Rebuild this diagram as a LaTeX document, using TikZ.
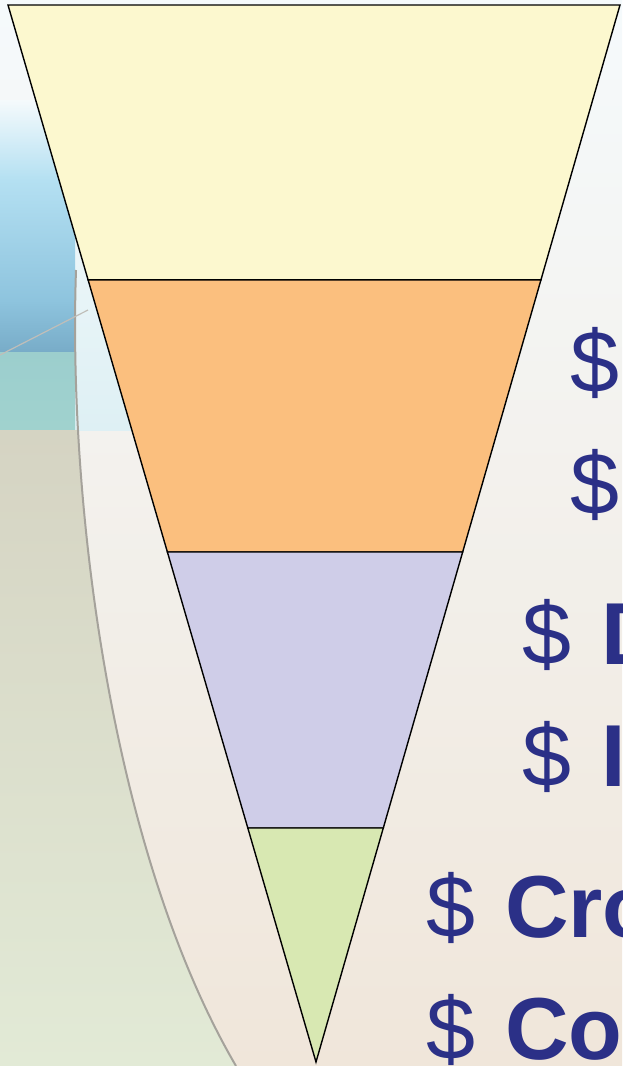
\documentclass[tikz,border=0pt]{standalone}
\usepackage{fontspec}
\setmainfont{Liberation Sans}
\usepackage{tikz}
\usetikzlibrary{calc}
\definecolor{slideBlue}{RGB}{43,48,135}
\definecolor{funnelYellow}{RGB}{252,248,207}
\definecolor{funnelOrange}{RGB}{251,191,126}
\definecolor{funnelLilac}{RGB}{207,205,232}
\definecolor{funnelGreen}{RGB}{216,232,178}
\definecolor{bgTop}{RGB}{245,250,252}
\definecolor{bgBottom}{RGB}{240,230,218}
\definecolor{bgPale}{RGB}{222,240,244}
\definecolor{bgSkyLight}{RGB}{180,224,242}
\definecolor{bgSky}{RGB}{142,196,222}
\definecolor{bgSteel}{RGB}{120,172,200}
\definecolor{bgTeal}{RGB}{160,210,206}
\definecolor{bgSand}{RGB}{210,206,190}
\definecolor{bgMint}{RGB}{226,234,214}
\definecolor{bgLine}{RGB}{165,162,155}

\begin{document}
\begin{tikzpicture}[
  x=1pt, y=-1pt,
  band/.style={draw=black, line width=1.4pt},
  bullet/.style={anchor=base west, inner sep=0pt, text=slideBlue,
                 font=\fontsize{88}{96}\selectfont}
]
  \clip (0,0) rectangle (622,1066);

  % slide background
  \shade[top color=bgTop, bottom color=bgBottom] (0,0) rectangle (622,1066);
  \shade[top color=bgTop, bottom color=bgPale] (75,100) rectangle (140,430);
  \shade[top color=bgTop, bottom color=bgSkyLight] (0,100) rectangle (75,180);
  \shade[top color=bgSkyLight, bottom color=bgSky] (0,180) rectangle (75,300);
  \shade[top color=bgSky, bottom color=bgSteel] (0,300) rectangle (75,352);
  \shade[top color=bgTeal!90!bgSteel, bottom color=bgTeal] (0,352) rectangle (75,430);
  \begin{scope}
    \clip (0,430) rectangle (622,1066);
    \shade[top color=bgSand, bottom color=bgMint]
      (0,270) -- (76,270) .. controls (68,500) and (110,850) .. (236,1066)
      -- (0,1066) -- cycle;
  \end{scope}
  \draw[bgLine, line width=2pt]
    (76,270) .. controls (68,500) and (110,850) .. (236,1066);
  \draw[bgLine!70, line width=1.2pt] (0,355) -- (88,310);

  % funnel corners and band edges
  \coordinate (tl) at (8,5);
  \coordinate (tr) at (620,5);
  \coordinate (apex) at (316,1062);
  \coordinate (l1) at ($(tl)!0.260!(apex)$);
  \coordinate (r1) at ($(tr)!0.260!(apex)$);
  \coordinate (l2) at ($(tl)!0.5175!(apex)$);
  \coordinate (r2) at ($(tr)!0.5175!(apex)$);
  \coordinate (l3) at ($(tl)!0.7786!(apex)$);
  \coordinate (r3) at ($(tr)!0.7786!(apex)$);

  \filldraw[band, fill=funnelYellow] (tl) -- (tr) -- (r1) -- (l1) -- cycle;
  \filldraw[band, fill=funnelOrange] (l1) -- (r1) -- (r2) -- (l2) -- cycle;
  \filldraw[band, fill=funnelLilac]  (l2) -- (r2) -- (r3) -- (l3) -- cycle;
  \filldraw[band, fill=funnelGreen]  (l3) -- (r3) -- (apex) -- cycle;

  % bullet list, cut off at the right edge
  \node[bullet] (b1) at (570,392)  {\$};
  \node[bullet] (b2) at (570,514)  {\$};
  \node[bullet] (b3) at (522,664)  {\$\hspace{30pt}\textbf{D}};
  \node[bullet] (b4) at (522,786)  {\$\hspace{30pt}\textbf{I}};
  \node[bullet] (b5) at (426,937)  {\$\hspace{30pt}\textbf{Cro}};
  \node[bullet] (b6) at (426,1059) {\$\hspace{30pt}\textbf{Co}};
\end{tikzpicture}
\end{document}
